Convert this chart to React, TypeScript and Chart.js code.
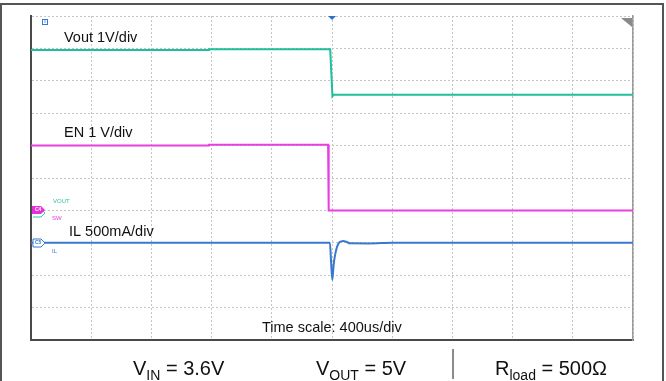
import React, { useEffect, useRef } from "react";
import { Chart, registerables } from "chart.js";

Chart.register(...registerables);

// Time axis: 400 us/div, 10 divisions, trigger at centre
const TIME_MIN = -2000;
const TIME_MAX = 2000;
const TIME_STEP = 400;

// Vout trace (V), 1 V/div
const VOUT_T = [-2000, -820, -818, -12, 3, 12, 2000];
const VOUT_V = [4.98, 4.98, 5.0, 5.0, 3.55, 3.6, 3.6];

// EN trace (V), 1 V/div
const EN_T = [-2000, -820, -818, -26, -22, 2000];
const EN_V = [2.0, 2.0, 2.03, 2.03, 0.0, 0.0];

// IL trace (mA), 500 mA/div
const IL_T = [-2000, -14, -6, 2, 8, 14, 24, 34, 46, 60, 75, 95, 120, 250, 400, 2000];
const IL_MA = [0, 0, -300, -570, -420, -280, -150, -60, 0, 20, 26, 15, -8, -10, 0, 0];

// Channel labels
const LABELS = ["Vout 1V/div", "EN 1 V/div", "IL 500mA/div"];
const TIME_LABEL = "Time scale: 400us/div";

const FONT = "'Liberation Sans', Arial, sans-serif";

const pts = (t: number[], v: number[]) => t.map((x, i) => ({ x, y: v[i] }));

function drawSub(ctx: CanvasRenderingContext2D, x: number, y: number, main: string, sub: string, rest: string) {
  ctx.font = `20px ${FONT}`;
  ctx.fillText(main, x, y);
  let w = ctx.measureText(main).width;
  ctx.font = `14px ${FONT}`;
  ctx.fillText(sub, x + w, y + 5);
  w += ctx.measureText(sub).width;
  ctx.font = `20px ${FONT}`;
  ctx.fillText(rest, x + w, y);
}

const decorPlugin = {
  id: "decor",
  afterDraw(chart: any) {
    const ctx: CanvasRenderingContext2D = chart.ctx;
    const ca = chart.chartArea;
    const xs = chart.scales.x;
    ctx.save();
    // outer frame
    ctx.strokeStyle = "#555";
    ctx.lineWidth = 2;
    ctx.beginPath();
    ctx.moveTo(1, 381);
    ctx.lineTo(1, 4);
    ctx.lineTo(663, 4);
    ctx.lineTo(663, 381);
    ctx.stroke();

    // channel labels
    ctx.fillStyle = "#111";
    ctx.textBaseline = "middle";
    ctx.font = `14.5px ${FONT}`;
    ctx.fillText(LABELS[0], 64, 38);
    ctx.fillText(LABELS[1], 64, 133);
    ctx.fillText(LABELS[2], 69, 232);
    ctx.fillText(TIME_LABEL, 262, 328);

    // tiny channel names
    ctx.font = `6px ${FONT}`;
    ctx.fillStyle = "#2cc4a4";
    ctx.fillText("VOUT", 53, 201);
    ctx.fillStyle = "#e040e0";
    ctx.fillText("SW", 52, 218);
    ctx.fillStyle = "#3a78d0";
    ctx.fillText("IL", 52, 251);

    // C4 marker (pink, teal outline behind)
    ctx.strokeStyle = "#2cc4a4";
    ctx.lineWidth = 1;
    ctx.beginPath();
    ctx.moveTo(33, 209); ctx.lineTo(41, 209); ctx.lineTo(45, 213); ctx.lineTo(41, 217); ctx.lineTo(33, 217);
    ctx.stroke();
    ctx.fillStyle = "#e830d8";
    ctx.beginPath();
    ctx.moveTo(32, 206); ctx.lineTo(41, 206); ctx.lineTo(45, 210); ctx.lineTo(41, 214); ctx.lineTo(32, 214);
    ctx.closePath();
    ctx.fill();
    ctx.fillStyle = "#fff";
    ctx.font = `bold 5px ${FONT}`;
    ctx.fillText("C4", 35, 210);

    // C5 marker
    ctx.fillStyle = "#fff";
    ctx.strokeStyle = "#3a78d0";
    ctx.beginPath();
    ctx.moveTo(33, 239); ctx.lineTo(41, 239); ctx.lineTo(45, 243); ctx.lineTo(41, 247); ctx.lineTo(33, 247);
    ctx.closePath();
    ctx.fill();
    ctx.stroke();
    ctx.fillStyle = "#3a78d0";
    ctx.fillText("C5", 35, 243);

    // top-left trigger-source icon
    ctx.strokeStyle = "#3a78d0";
    ctx.strokeRect(42.5, 19.5, 5, 5);
    ctx.font = `bold 5px ${FONT}`;
    ctx.fillText("T", 43.5, 22);

    // trigger position marker
    const tx = xs.getPixelForValue(0);
    ctx.fillStyle = "#2f6fd0";
    ctx.beginPath();
    ctx.moveTo(tx - 4, ca.top);
    ctx.lineTo(tx + 4, ca.top);
    ctx.lineTo(tx, ca.top + 4);
    ctx.closePath();
    ctx.fill();

    // top-right corner triangle
    ctx.fillStyle = "#8a8a8a";
    ctx.beginPath();
    ctx.moveTo(ca.right - 12, ca.top + 2);
    ctx.lineTo(ca.right - 1, ca.top + 2);
    ctx.lineTo(ca.right - 1, ca.top + 11);
    ctx.closePath();
    ctx.fill();

    // bottom captions
    ctx.fillStyle = "#111";
    ctx.textBaseline = "alphabetic";
    drawSub(ctx, 133, 375, "V", "IN", " = 3.6V");
    drawSub(ctx, 316, 375, "V", "OUT", " = 5V");
    drawSub(ctx, 495, 375, "R", "load", " = 500\u03A9");

    // divider
    ctx.strokeStyle = "#666";
    ctx.lineWidth = 1.5;
    ctx.beginPath();
    ctx.moveTo(453, 349);
    ctx.lineTo(453, 379);
    ctx.stroke();
    ctx.restore();
  },
};

const bgPlugin = {
  id: "bg",
  beforeDraw(c: any) {
    c.ctx.save();
    c.ctx.fillStyle = "#fff";
    c.ctx.fillRect(0, 0, c.width, c.height);
    c.ctx.restore();
  },
};

export default function App() {
  const ref = useRef<HTMLCanvasElement>(null);
  useEffect(() => {
    if (!ref.current) return;
    const grid = { color: "#c4c4c4", lineWidth: 1, drawTicks: false };
    const chart = new Chart(ref.current, {
      type: "line",
      data: {
        datasets: [
          { label: "Vout", data: pts(VOUT_T, VOUT_V), yAxisID: "yv", borderColor: "#1fbf9c", borderWidth: 2, pointRadius: 0, tension: 0 },
          { label: "EN", data: pts(EN_T, EN_V), yAxisID: "ye", borderColor: "#e83fe0", borderWidth: 2, pointRadius: 0, tension: 0 },
          { label: "IL", data: pts(IL_T, IL_MA), yAxisID: "yi", borderColor: "#3a78d0", borderWidth: 2, pointRadius: 0, cubicInterpolationMode: "monotone" },
        ],
      },
      options: {
        responsive: false,
        animation: false,
        events: [],
        layout: { padding: { left: 31, top: 16, right: 33, bottom: 41 } },
        plugins: { legend: { display: false }, tooltip: { enabled: false } },
        scales: {
          x: {
            type: "linear",
            min: TIME_MIN,
            max: TIME_MAX,
            ticks: { display: false, stepSize: TIME_STEP },
            grid,
            border: { display: true, color: "#4a4a4a", width: 2, dash: [2, 2] },
          },
          g: {
            type: "linear",
            position: "left",
            min: 0,
            max: 10,
            ticks: { display: false, stepSize: 1 },
            grid,
            border: { display: true, color: "#4a4a4a", width: 2, dash: [2, 2] },
          },
          r: {
            type: "linear",
            position: "right",
            min: 0,
            max: 10,
            ticks: { display: false },
            grid: { display: false, drawTicks: false },
            border: { display: true, color: "#9a9a9a", width: 1.5 },
          },
          yv: { type: "linear", display: false, min: -3.97, max: 6.03 },
          ye: { type: "linear", display: false, min: -4.0, max: 6.0 },
          yi: { type: "linear", display: false, min: -1500, max: 3500 },
        },
      } as any,
      plugins: [bgPlugin, decorPlugin],
    });
    return () => chart.destroy();
  }, []);
  return (
    <div style={{ position: "fixed", left: 0, top: 0, width: 666, height: 381, background: "#fff" }}>
      <canvas ref={ref} width={666} height={381} />
    </div>
  );
}
